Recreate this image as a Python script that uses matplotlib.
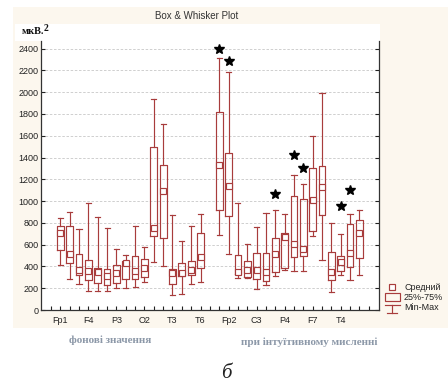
import matplotlib.pyplot as plt
from matplotlib.lines import Line2D
from matplotlib.patches import Rectangle

# positions of the 32 electrodes (16 background + gap + 16 intuitive)
positions = list(range(16)) + list(range(17, 33))
tick_pos = [0, 3, 6, 9, 12, 15, 18, 21, 24, 27, 30]
tick_labels = ["Fp1", "F4", "P3", "O2", "T3", "T6", "Fp2", "C3", "P4", "F7", "T4"]

mins = [417, 283, 237, 179, 170, 170, 200, 204, 215, 261, 439, 402, 135, 150, 236, 255,
        693, 518, 290, 298, 191, 228, 316, 368, 360, 359, 678, 457, 163, 319, 279, 319]
q1 = [554, 429, 325, 273, 252, 234, 252, 281, 285, 301, 681, 660, 242, 313, 322, 387,
      917, 866, 330, 307, 289, 267, 353, 384, 491, 492, 724, 875, 276, 362, 393, 476]
means = [704, 518, 365, 356, 347, 310, 337, 430, 356, 390, 749, 1092, 338, 344, 368, 491,
         1332, 1142, 350, 371, 365, 353, 511, 671, 605, 559, 1010, 1129, 353, 442, 525, 703]
q3 = [771, 771, 518, 460, 386, 374, 414, 448, 500, 470, 1497, 1329, 381, 436, 448, 706,
      1817, 1439, 505, 450, 527, 521, 664, 708, 1050, 1019, 1301, 1326, 534, 500, 786, 829]
maxs = [847, 902, 744, 982, 853, 756, 560, 503, 767, 574, 1940, 1706, 872, 629, 770, 881,
        2314, 2188, 980, 606, 762, 893, 921, 881, 1237, 1154, 1596, 1989, 795, 694, 878, 921]

star_pos = [17, 18, 23, 25, 26, 30, 31]
star_val = [2395, 2290, 1065, 1425, 1308, 955, 1105]

W, H = 448, 387
red = "#A83C3C"
cream = "#FCF7EE"


def px(x, y):
    return x / W, 1 - y / H


fig = plt.figure(figsize=(4.48, 3.87), dpi=100, facecolor="white")

# cream panel and white strip above the plot
fig.patches.append(Rectangle(px(13, 328), (W - 13) / W, (328 - 7) / H,
                             transform=fig.transFigure, facecolor=cream, edgecolor="none", zorder=-10))
fig.patches.append(Rectangle(px(15, 41), (380 - 15) / W, (41 - 24) / H,
                             transform=fig.transFigure, facecolor="white", edgecolor="none", zorder=-9))

ax = fig.add_axes([41.3 / W, 1 - 310 / H, (379 - 41.3) / W, (310 - 41) / H])
ax.set_zorder(1)
ax.set_facecolor("white")

stats = []
for i in range(len(positions)):
    stats.append(dict(whislo=mins[i], q1=q1[i], med=means[i], q3=q3[i],
                      whishi=maxs[i], mean=means[i], fliers=[]))

lw = 0.85
ax.bxp(stats, positions=positions, widths=0.72, capwidths=0.55, showmeans=True,
       boxprops=dict(color=red, linewidth=lw),
       whiskerprops=dict(color=red, linewidth=lw),
       capprops=dict(color=red, linewidth=lw),
       medianprops=dict(linewidth=0),
       meanprops=dict(marker="s", markersize=4, markerfacecolor="white",
                      markeredgecolor=red, markeredgewidth=lw))

ax.plot(star_pos, star_val, linestyle="none", marker="*", markersize=7,
        color="black", zorder=5, clip_on=False)

ax.set_xlim(-2.04, 34.1)
ax.set_ylim(0, 2470)
ax.set_yticks(range(0, 2401, 200))
ax.set_xticks(range(-1, 34))
ax.set_xticklabels(["" if p not in tick_pos else tick_labels[tick_pos.index(p)]
                    for p in range(-1, 34)])
ax.tick_params(axis="both", direction="in", length=3, width=0.8, labelsize=6.5,
               colors="#222222", pad=2)
ax.tick_params(axis="y", right=True)
ax.tick_params(axis="x", pad=4)
for lab in ax.get_xticklabels() + ax.get_yticklabels():
    lab.set_fontfamily("Liberation Sans")

ax.yaxis.grid(True, linestyle=(0, (3, 2)), color="#C8C8C8", linewidth=0.6)
ax.set_axisbelow(True)
ax.spines["top"].set_visible(False)
for s in ["left", "right", "bottom"]:
    ax.spines[s].set_color("#333333")
    ax.spines[s].set_linewidth(0.9)

fig.text(*px(197, 16), "Box & Whisker Plot", ha="center", va="center",
         fontsize=7, color="#333333", family="Liberation Sans")

fig.text(*px(22, 32), "мкВ.", ha="left", va="center", fontsize=7.5,
         fontweight="bold", family="Liberation Serif", color="#111111")
fig.text(*px(44, 28.5), "2", ha="left", va="center", fontsize=7,
         fontweight="bold", family="Liberation Serif", color="#111111")

# legend drawn by hand
lx = 391.7
fig.add_artist(Line2D([px(lx, 0)[0]], [px(0, 287)[1]], marker="s", markersize=4,
                      markerfacecolor="white", markeredgecolor=red,
                      markeredgewidth=lw, transform=fig.transFigure))
fig.patches.append(Rectangle(px(384.5, 301), 15 / W, 8.5 / H, transform=fig.transFigure,
                             facecolor="none", edgecolor=red, linewidth=lw))
fig.add_artist(Line2D([px(384.5, 0)[0], px(399.5, 0)[0]], [px(0, 305)[1]] * 2,
                      color=red, linewidth=lw, transform=fig.transFigure))
fig.add_artist(Line2D([px(lx, 0)[0]] * 2, [px(0, 305)[1], px(0, 312.5)[1]],
                      color=red, linewidth=lw, transform=fig.transFigure))
fig.add_artist(Line2D([px(386.5, 0)[0], px(397, 0)[0]], [px(0, 312.5)[1]] * 2,
                      color=red, linewidth=lw, transform=fig.transFigure))
for y, t in [(287, "Средний"), (297, "25%-75%"), (308, "Min-Max")]:
    fig.text(*px(404, y), t, ha="left", va="center", fontsize=6.5,
             color="#222222", family="Liberation Sans")

fig.text(*px(110.5, 340), "фонові значення", ha="center", va="center", fontsize=8,
         fontweight="bold", family="Liberation Serif", color="#8C98A8")
fig.text(*px(309, 342), "при інтуїтивному мисленні", ha="center", va="center",
         fontsize=8, fontweight="bold", family="Liberation Serif", color="#8C98A8")
fig.text(*px(226, 374), "б", ha="center", va="center", fontsize=15,
         style="italic", family="Liberation Serif", color="#222222")

fig.savefig("out.png", dpi=100)
